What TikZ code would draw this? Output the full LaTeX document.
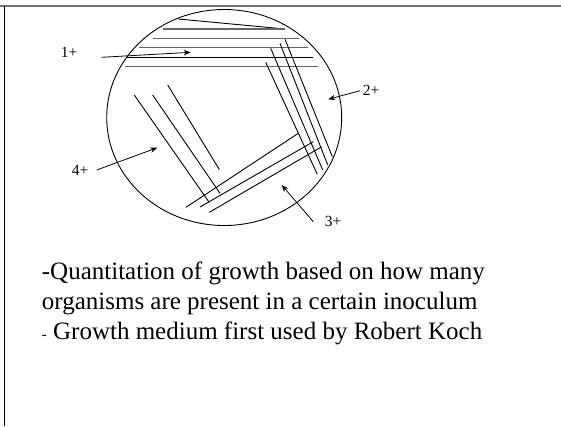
\documentclass[tikz,border=0pt]{standalone}
\usepackage{fontspec}
\setmainfont{Liberation Serif}
\usepackage{tikz}
\usetikzlibrary{calc, positioning, arrows.meta}

\tikzset{
    streak/.style={black, line width=0.9pt},
    greystreak/.style={black!60, line width=1.3pt},
    pointer/.style={->, line width=0.8pt},
    grade/.style={font=\fontsize{15.5}{17}\selectfont, inner sep=0pt},
    bullet/.style={font=\fontsize{25}{30}\selectfont, anchor=base west, inner sep=0pt}
}

\begin{document}
\begin{tikzpicture}[>={Stealth[length=7pt,width=5.5pt]}, x=1pt, y=-1pt]

    % =================================================================
    % KHUNG
    % =================================================================
    \useasboundingbox (0,0) rectangle (561,426);
    \draw[black!55, line width=1.5pt] (0,6) -- (561,6);
    \draw[line width=1pt] (4,6) -- (4,426);

    % =================================================================
    % ĐĨA PETRI
    % =================================================================
    \coordinate (plate) at (224.2,117.5);
    \draw[line width=0.9pt] (plate) ellipse (117.5 and 108);

    % Vùng 1: các vạch ngang
    \draw[streak] (178.3,19) -- (285,29);
    \draw[greystreak] (162.7,29) -- (285,29);
    \draw[greystreak] (152.7,38.3) -- (299,38.3);
    \draw[greystreak] (139.3,47.7) -- (308.3,47.7);
    \draw[streak] (126.7,57.3) -- (313.3,57.3);
    \draw[greystreak] (125,66.7) -- (317.7,66.7);

    % Vùng 2
    \draw[streak] (285,39.3) -- (332.3,156.7);
    \draw[streak] (280,43.3) -- (327.7,165);
    \draw[streak] (270.7,48.3) -- (322.7,170);
    \draw[streak] (265.7,62.3) -- (317.3,174.3);

    % Vùng 3
    \draw[streak] (186,207.3) -- (298.3,133.3);
    \draw[streak] (200,207) -- (313.3,141.7);
    \draw[streak] (209.3,212.3) -- (321.7,146.7);

    % Vùng 4
    \draw[streak] (134.3,95) -- (209.3,202.5);
    \draw[streak] (152.7,95) -- (220,193.3);
    \draw[streak] (167.7,85) -- (219.3,169.5);

    % Nhãn và mũi tên
    \node[grade] (g1) at (69,52.7) {1+};
    \node[grade] (g2) at (371,90.7) {2+};
    \node[grade] (g3) at (333,221.7) {3+};
    \node[grade] (g4) at (80,170) {4+};

    \coordinate (s1) at (101.7,57.3);  \coordinate (e1) at (190.7,52.3);
    \coordinate (s2) at (360,90.7);    \coordinate (e2) at (328.3,99.3);
    \coordinate (s3) at (313.3,221.7); \coordinate (e3) at (281.7,185);
    \coordinate (s4) at (96.7,170);    \coordinate (e4) at (157.3,147.7);

    \draw[pointer] (s1) -- (e1);
    \draw[pointer] (s2) -- (e2);
    \draw[pointer] (s3) -- (e3);
    \draw[pointer] (s4) -- (e4);

    % =================================================================
    % CHỮ
    % =================================================================
    \node[bullet] (q1) at (41.7,279) {-Quantitation of growth based on how many};
    \node[bullet] (q2) at (41.7,309) {organisms are present in a certain inoculum};
    \node[bullet] (q3) at (41.7,339) {{\fontsize{15}{15}\selectfont -} Growth medium first used by Robert Koch};

\end{tikzpicture}
\end{document}
